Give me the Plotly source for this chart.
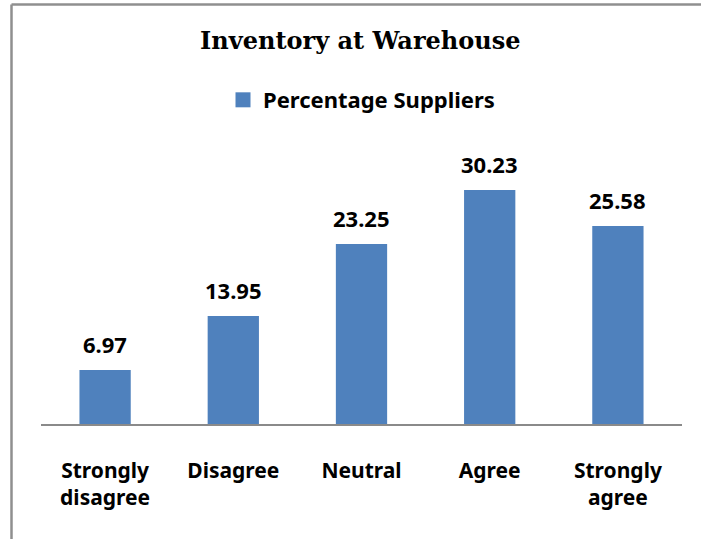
import plotly.graph_objects as go

categories = ["Strongly<br>disagree", "Disagree", "Neutral", "Agree", "Strongly<br>agree"]
values = [6.97, 13.95, 23.25, 30.23, 25.58]
series_name = "Percentage Suppliers"
title_text = "Inventory at Warehouse"

BAR = "#4F81BD"
SANS = "Noto Sans"

fig = go.Figure()
fig.add_trace(go.Bar(
    x=categories, y=values, name=series_name,
    marker=dict(color=BAR, line=dict(width=0)),
    showlegend=False,
))
# legend entry with a larger square swatch
fig.add_trace(go.Scatter(
    x=[categories[0]], y=[None], name=series_name, mode="markers",
    marker=dict(symbol="square", size=15, color=BAR),
    showlegend=True, hoverinfo="skip",
))

for c, v in zip(categories, values):
    fig.add_annotation(x=c, y=v, text=f"{v:.2f}", showarrow=False,
                       yanchor="bottom", yshift=9,
                       font=dict(family=SANS, size=22, color="black", weight=700))

fig.update_layout(
    width=701, height=539,
    margin=dict(l=41, r=19, t=130, b=115),
    paper_bgcolor="white", plot_bgcolor="white",
    bargap=0.6,
    title=dict(text=title_text, x=0.514, xanchor="center", y=1 - 41 / 539, yanchor="middle",
               yref="container",
               font=dict(family="DejaVu Serif", size=24, color="black", weight=700)),
    legend=dict(orientation="h", x=0.5, xanchor="center", y=1.102, yanchor="middle",
                font=dict(family=SANS, size=22, color="black", weight=700),
                itemwidth=30, bgcolor="rgba(0,0,0,0)"),
    xaxis=dict(showline=True, linecolor="#8a8a8a", linewidth=1.5, showgrid=False,
               ticks="", ticklabelstandoff=27,
               tickfont=dict(family=SANS, size=21, color="black", weight=700)),
    yaxis=dict(range=[0, 38.0], visible=False, showgrid=False, zeroline=False),
    shapes=[
        dict(type="line", xref="paper", yref="paper", x0=(11.5 - 41) / 641, x1=(11.5 - 41) / 641,
             y0=(424 - 4.5) / 294, y1=(424 - 545) / 294, line=dict(color="#8f8f8f", width=2.5)),
        dict(type="line", xref="paper", yref="paper", x0=(11.5 - 41) / 641, x1=(710 - 41) / 641,
             y0=(424 - 4.5) / 294, y1=(424 - 4.5) / 294, line=dict(color="#8f8f8f", width=2.5)),
    ],
)

fig.write_html("out.html", config={"displayModeBar": False},
               post_script="document.body.style.margin='0px';")
